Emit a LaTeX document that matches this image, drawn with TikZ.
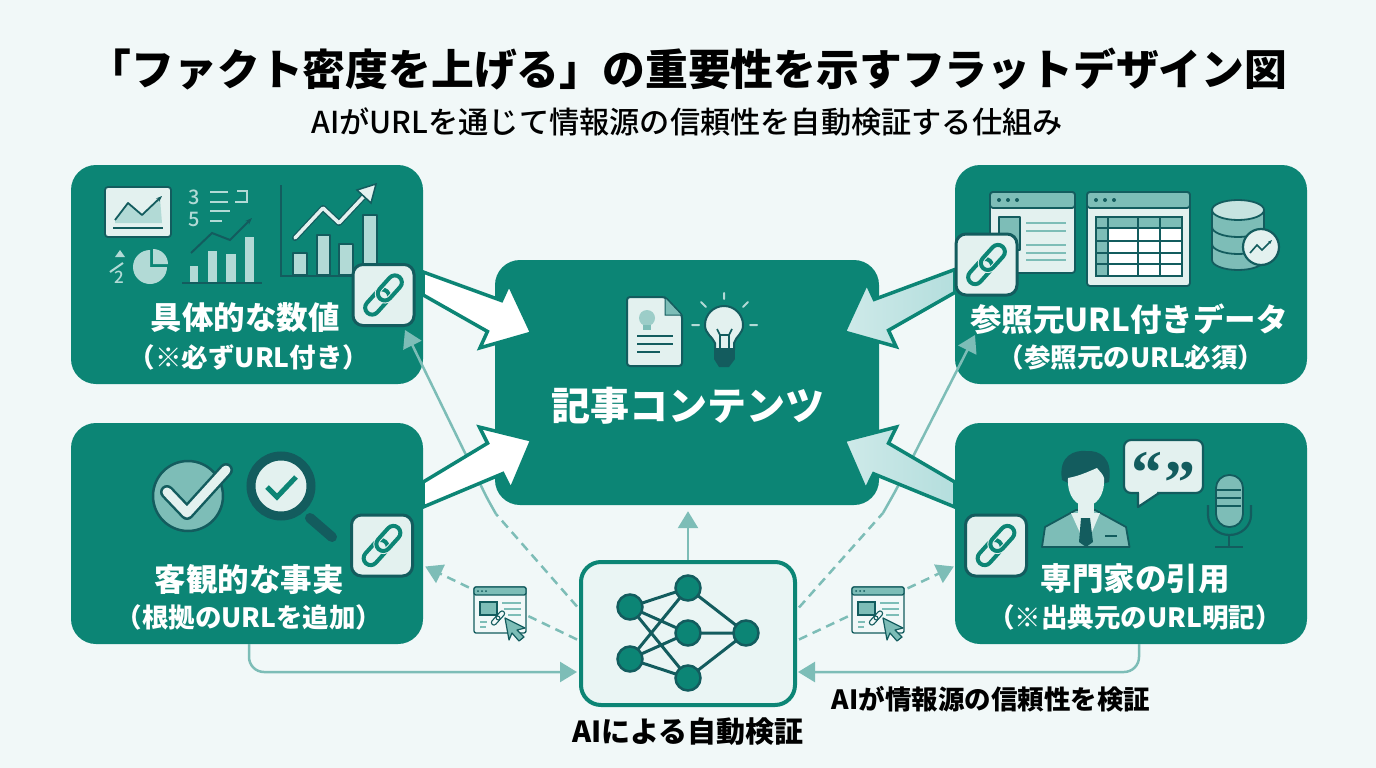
\documentclass[tikz,border=0pt]{standalone}
\usepackage{fontspec}
\setmainfont{Noto Sans CJK JP}
\newfontfamily\medfont{Noto Sans CJK JP Medium}
\newfontfamily\quotefont{Liberation Serif}
\usetikzlibrary{arrows.meta,calc}
\definecolor{bgc}{HTML}{F1F8F8}
\definecolor{teal}{HTML}{0C8575}
\definecolor{dark}{HTML}{135C5E}
\definecolor{mid}{HTML}{7DBDB7}
\definecolor{pale}{HTML}{E3F1EF}
\definecolor{soft}{HTML}{B2DAD6}
\definecolor{ice}{HTML}{B4DEDD}
\newcommand\fs[1]{\fontsize{#1}{#1}\selectfont}
\newcommand\linkshape[3]{%
  \draw[teal,line width=#1,rounded corners=#2] (-24,-7) rectangle (5,7);
  \draw[#3,line width=#1+2pt,rounded corners=#2] (-5,-7) rectangle (24,7);
  \draw[teal,line width=#1,rounded corners=#2] (-5,-7) rectangle (24,7);
}
\newcommand\blockarrow[4]{%
  \coordinate (n) at ($(#2)!41pt!(#1)$);
  \filldraw[bigarrow,#3] ($(#1)+(0,#4)$) -- ($(n)!17pt!90:(#2)$) -- ($(n)!35pt!90:(#2)$) -- (#2)
    -- ($(n)!35pt!-90:(#2)$) -- ($(n)!17pt!-90:(#2)$) -- ($(#1)-(0,#4)$) -- cycle;
}
\tikzset{
  x=1pt,y=-1pt,
  card/.style={fill=teal,rounded corners=25pt,inner sep=0pt,minimum width=352pt,minimum height=#1},
  badge/.style={fill=pale,draw=dark,line width=3pt,rounded corners=10pt,minimum size=61pt,inner sep=0pt},
  bigarrow/.style={draw=teal,line width=3.5pt,line join=miter,miter limit=8},
  flow/.style={draw=mid,line width=2.5pt},
  flowdash/.style={draw=mid,line width=2.5pt,dash pattern=on 9pt off 6pt},
  tip/.style={-{Triangle[length=17pt,width=20pt,color=mid]}},
  wtxt/.style={text=white,font=\bfseries,inner sep=0pt},
  ktxt/.style={text=black,font=\bfseries,inner sep=0pt},
  ink/.style={draw=dark,line width=1.8pt,line join=round},
  netnode/.style={circle,fill=teal,draw=dark,line width=2.5pt,minimum size=25pt,inner sep=0pt},
  netline/.style={draw=dark,line width=3pt},
  linkicon/.pic={\linkshape{4pt}{7pt}{pale}},
  webicon/.pic={
    \fill[bgc] (-3,-3) rectangle (54,50);
    \filldraw[fill=bgc,draw=dark,line width=1.3pt,rounded corners=2pt] (0,0) rectangle (52,46);
    \filldraw[fill=mid,draw=dark,line width=1.3pt,rounded corners=2pt] (0,0) rectangle (52,8);
    \fill[dark] (4,4) circle (1) (8,4) circle (1) (12,4) circle (1);
    \filldraw[fill=mid,draw=dark,line width=1.1pt] (6,15) rectangle (23,28);
    \draw[mid,line width=1.2pt] (28,16)--(47,16) (30,22)--(47,22) (34,28)--(47,28) (6,35)--(13,35) (6,40)--(12,40);
    \begin{scope}[shift={(24,31)},rotate=48,scale=.36]
      \draw[dark,line width=1.1pt,rounded corners=2.5pt] (-24,-7) rectangle (5,7);
      \draw[dark,line width=1.1pt,rounded corners=2.5pt] (-5,-7) rectangle (24,7);
    \end{scope}
    \filldraw[fill=mid,draw=dark,line width=1.2pt,line join=round] (31,31) -- (51,41) -- (43,43) -- (50,50) -- (45,54) -- (38,46) -- (35,53) -- cycle;
  }
}
\begin{document}
\begin{tikzpicture}
\useasboundingbox (0,0) rectangle (1376,768);
\fill[bgc] (0,0) rectangle (1376,768);

% titles
\node[ktxt] (title) at (688,69) {\fs{42.8}「ファクト密度を上げる」の重要性を示すフラットデザイン図};
\node[text=black,font=\medfont,inner sep=0pt] (subtitle) at (687,122) {\fs{30.2}AIがURLを通じて情報源の信頼性を自動検証する仕組み};

% cards
\node[card=245pt,minimum width=384pt] (center) at (687,382.5) {};
\node[card=219pt] (c1) at (247,274.5) {};
\node[card=221pt] (c2) at (247,533.5) {};
\node[card=219pt] (c3) at (1131,274.5) {};
\node[card=221pt] (c4) at (1131,533.5) {};
\node[fill=bgc!97!teal,draw=teal,line width=4pt,rounded corners=20pt,minimum width=214pt,minimum height=143pt,inner sep=0pt] (ai) at (688,633.5) {};

% thin connectors
\coordinate (bendL) at (496,514);
\coordinate (kneeL) at (487,498);
\coordinate (tipL) at (405,330);
\coordinate (bendR) at (883,513);
\coordinate (kneeR) at (896,490);
\coordinate (tipR) at (975,335);
\draw[flowdash] ($(ai.west)+(-2,-27)$) -- (bendL);
\draw[flow,tip,rounded corners=6pt] (bendL) -- (kneeL) -- (tipL);
\draw[flowdash] ($(ai.east)+(2,-26)$) -- (bendR);
\draw[flow,tip,rounded corners=8pt] (bendR) -- (kneeR) -- (tipR);
\draw[flow,tip] (ai.north) -- ($(center.south)+(1,6)$);
\draw[flowdash,tip] ($(ai.west)+(-2,6)$) -- ($(c2.east)+(2,33)$);
\draw[flowdash,tip] ($(ai.east)+(2,6)$) -- ($(c4.west)+(-1,33)$);
\draw[flow,tip,rounded corners=15pt] ($(c2.south)+(2,0)$) |- ($(ai.west)+(-2,38.5)$);
\draw[flow,tip,rounded corners=15pt] ($(c4.south)+(8,0)$) |- ($(ai.east)+(1,38.5)$);

% block arrows
\coordinate (tTL) at ($(c1.east)+(0,9)$);
\coordinate (hTL) at ($(center.west)+(37,-49.5)$);
\coordinate (tBL) at ($(c2.east)+(0,-39)$);
\coordinate (hBL) at ($(center.west)+(37,57.5)$);
\coordinate (tTR) at ($(c3.west)+(0,6.5)$);
\coordinate (hTR) at ($(center.east)+(-35,-50.5)$);
\coordinate (tBR) at ($(c4.west)+(0,-39)$);
\coordinate (hBR) at ($(center.east)+(-35,58)$);
\blockarrow{tTL}{hTL}{fill=white}{-11.5}
\blockarrow{tBL}{hBL}{fill=white}{-12.5}
\blockarrow{tTR}{hTR}{left color=ice!65!white,right color=ice}{11.5}
\blockarrow{tBR}{hBR}{left color=ice!65!white,right color=ice}{12.5}

% web icons
\pic at (474,587) {webicon};
\pic at (852,587) {webicon};

% AI network
\draw[netline] (630,607)--(688,588) (630,607)--(688,633) (630,607)--(688,678) (630,659)--(688,588) (630,659)--(688,633) (630,659)--(688,678) (688,588)--(746,633) (688,633)--(746,633) (688,678)--(746,633);
\node[netnode] (n1) at (630,607) {};
\node[netnode] (n2) at (688,588) {};
\node[netnode] (n3) at (688,633) {};
\node[netnode] (n4) at (630,659) {};
\node[netnode] (n5) at (688,678) {};
\node[netnode] (n6) at (746,633) {};

% text on cards
\node[wtxt] (l1) at (245,318) {\fs{31.5}具体的な数値};
\node[wtxt] (s1) at (249,357) {\fs{26.5}（※必ずURL付き）};
\node[wtxt] (l2) at (249,579) {\fs{31.5}客観的な事実};
\node[wtxt] (s2) at (249,617) {\fs{26.5}（根拠のURLを追加）};
\node[wtxt] (l3) at (1129,319) {\fs{31.5}参照元URL付きデータ};
\node[wtxt] (s3) at (1131,357) {\fs{26.5}（参照元のURL必須）};
\node[wtxt] (l4) at (1135,579) {\fs{31.5}専門家の引用};
\node[wtxt] (s4) at (1135,617) {\fs{26.5}（※出典元のURL明記）};
\node[wtxt] (lc) at (688,406) {\fs{39}記事コンテンツ};
\node[ktxt] (lai) at (688,732) {\fs{29}AIによる自動検証};
\node[ktxt] (lv) at (991,699) {\fs{26.5}AIが情報源の信頼性を検証};

% --- icons, top left
\filldraw[fill=pale,ink,rounded corners=3pt] (105,187) rectangle (171,237);
\fill[soft] (115,220) -- (128,203) -- (142,215) -- (160,198) -- (162,223) -- (115,223) -- cycle;
\draw[ink,-{Stealth[length=6pt]}] (115,220) -- (128,203) -- (142,215) -- (162,196);
\draw[ink] (113,228) -- (163,228);
\node[text=soft,inner sep=0pt,font=\medfont] (d3) at (194,197) {\fs{20}3};
\node[text=soft,inner sep=0pt,font=\medfont] (d5) at (194,219) {\fs{20}5};
\draw[soft,line width=2pt] (210,192)--(228,192) (210,202)--(228,202) (210,211)--(230,211) (210,221)--(222,221) (237,191)--(247,191)--(247,202)--(235,202);
\fill[soft] (120,250) -- (115,257) -- (125,257) -- cycle;
\draw[soft,line width=2pt] (110,272) -- (123,263);
\node[text=soft,inner sep=0pt,font=\medfont] (d2) at (119,277) {\fs{17}2};
\fill[soft] (150,267) -- (150,250) arc[start angle=270,end angle=0,radius=17] -- cycle;
\fill[soft] (153,249) arc[start angle=270,end angle=360,radius=15] -- (153,264) -- cycle;
\draw[dark,line width=1.5pt] (182,283) -- (262,283);
\foreach \a/\b/\c in {190/266/198,208/251/217,226/254/236,245/237/254}
  \fill[soft] (\a,\b) rectangle (\c,282);
\draw[dark,line width=2pt,-{Stealth[length=7pt]}] (191,253) -- (212,233) -- (230,240) -- (252,218);
\draw[dark,line width=1.8pt] (281,185) -- (281,276) -- (355,276);
\foreach \a/\b/\c in {293/253/307,317/235/330,339/244/353,363/215/377}
  \filldraw[fill=soft,ink] (\a,\b) rectangle (\c,275);
\draw[dark,line width=6pt,line join=round,line cap=round] (295,238) -- (323,208) -- (339,223) -- (367,193);
\draw[pale,line width=3.5pt,line join=round,line cap=round] (295,238) -- (323,208) -- (339,223) -- (369,191);
\filldraw[fill=pale,draw=dark,line width=1.5pt,line join=miter] (376,184) -- (371,203) -- (357,190) -- cycle;

% --- icons, bottom left
\filldraw[fill=mid,draw=dark,line width=2.5pt] (188,496) circle (35);
\draw[dark,line width=14pt,line join=round,line cap=round] (167,492) -- (187,513) -- (226,470);
\draw[pale,line width=9pt,line join=round,line cap=round] (167,492) -- (187,513) -- (226,470);
\draw[dark,line width=10pt,line cap=round] (310,518) -- (332,537);
\filldraw[fill=pale,draw=dark,line width=9pt] (281,486) circle (30);
\draw[teal,line width=5pt,line join=miter] (267,487) -- (277,497) -- (296,477);

% --- icons, top right
\filldraw[fill=pale,ink,rounded corners=3pt] (990,192) rectangle (1075,273);
\filldraw[fill=mid,ink,rounded corners=3pt] (990,192) rectangle (1075,208);
\fill[dark] (999,200) circle (2) (1008,200) circle (2) (1017,200) circle (2);
\filldraw[fill=mid,ink] (999,217) rectangle (1020,250);
\draw[mid,line width=2.2pt] (1026,223)--(1066,223) (1026,231)--(1066,231) (1026,245)--(1066,245) (1026,253)--(1066,253) (1026,260)--(1066,260);
\filldraw[fill=pale,ink,rounded corners=3pt] (1087,192) rectangle (1190,286);
\filldraw[fill=mid,ink,rounded corners=3pt] (1087,192) rectangle (1190,208);
\fill[dark] (1096,200) circle (2) (1105,200) circle (2) (1114,200) circle (2);
\fill[white] (1096,217) rectangle (1182,276);
\fill[mid] (1096,217) rectangle (1182,228) (1096,217) rectangle (1108,276);
\draw[dark,line width=1.8pt] (1096,217) rectangle (1182,276) (1108,217)--(1108,276) (1138,217)--(1138,276) (1160,217)--(1160,276) (1096,228)--(1182,228) (1096,241)--(1182,241) (1096,253)--(1182,253) (1096,264)--(1182,264);
\filldraw[fill=mid,ink] (1212,210) -- (1212,260) arc[start angle=180,end angle=0,x radius=26,y radius=10] -- (1264,210) -- cycle;
\draw[ink] (1212,227) arc[start angle=180,end angle=0,x radius=26,y radius=10];
\draw[ink] (1212,244) arc[start angle=180,end angle=0,x radius=26,y radius=10];
\filldraw[fill=soft!60!pale,ink] (1238,210) ellipse[x radius=26,y radius=10];
\filldraw[fill=pale,ink,line width=2.2pt] (1261,247) circle (18);
\draw[dark,line width=1.6pt,-{Stealth[length=4pt]}] (1250,253) -- (1257,245) -- (1262,250) -- (1272,240);

% --- icons, bottom right
\filldraw[fill=mid,ink] (1042,547) -- (1045,527) -- (1076,510) -- (1095,510) -- (1126,527) -- (1129.5,547) -- cycle;
\fill[pale] (1071,513) -- (1086,546) -- (1100,513) -- cycle;
\fill[dark] (1081,518) -- (1090,518) -- (1093,542) -- (1086,547) -- (1079,542) -- cycle;
\draw[dark,line width=1.8pt] (1105,536) -- (1117,536);
\fill[pale] (1078,500) rectangle (1094,516);
\fill[dark] (1062,480) .. controls (1058,455) and (1075,450) .. (1086,451) .. controls (1100,450) and (1113,458) .. (1109,482) -- (1102,484) -- (1070,484) -- cycle;
\fill[pale] (1068,478) .. controls (1080,476) and (1092,470) .. (1097,468) .. controls (1100,472) and (1103,474) .. (1104,478) .. controls (1105,497) and (1095,506) .. (1086,506) .. controls (1077,506) and (1067,497) .. (1068,478) -- cycle;
\filldraw[fill=pale,ink,line width=2.2pt,rounded corners=7pt] (1124,440) rectangle (1203,493);
\filldraw[fill=pale,draw=dark,line width=2.2pt,line join=round] (1138,492) -- (1138,507) -- (1159,493);
\fill[pale] (1139.2,489) rectangle (1157,492.8);
\node[text=dark,font=\quotefont\bfseries,inner sep=0pt] (q1) at (1147,473) {\fs{62}“};
\node[text=dark,font=\quotefont\bfseries,inner sep=0pt] (q2) at (1180,483) {\fs{62}”};
\filldraw[fill=mid,ink,rounded corners=13pt] (1216,475) rectangle (1243,527);
\draw[dark,line width=2pt] (1217,490)--(1241,490) (1217,498)--(1241,498) (1217,506)--(1241,506);
\draw[dark,line width=2.2pt] (1208,505) -- (1208,515) arc[start angle=180,end angle=0,x radius=21.5,y radius=20] -- (1251,505);
\draw[dark,line width=2.2pt] (1229,535) -- (1229,547) (1215,547) -- (1243,547);

% --- icons, centre card
\filldraw[fill=pale,ink,line width=2pt,rounded corners=3pt] (627,297) -- (665,297) -- (682,315) -- (682,366) -- (627,366) -- cycle;
\filldraw[fill=mid,draw=dark,line width=1pt] (665,297) -- (682,315) -- (665,315) -- cycle;
\fill[mid!70!pale] (647,318) circle (8);
\fill[mid] (643,325) rectangle (651,330);
\draw[dark,line width=2pt] (637,336)--(673,336) (637,344)--(673,344) (637,352)--(660,352);
\filldraw[fill=pale,ink,line width=2pt] (715,350) -- (715,343) .. controls (712,336) and (705,334) .. (705,325) arc[start angle=180,end angle=360,radius=19] .. controls (743,334) and (736,336) .. (734,343) -- (734,350) -- cycle;
\draw[dark,line width=1.6pt] (717,329) -- (720,335) -- (720,348) (732,329) -- (729,335) -- (729,348) (720,335) -- (729,335);
\fill[dark] (714,348) rectangle (735,359);
\fill[dark] (714,359) -- (735,359) -- (729,367) -- (719,367) -- cycle;
\draw[soft,line width=2pt,line cap=round] (724,293)--(724,299) (701,302)--(706,307) (748,302)--(743,307) (692,325)--(699,325) (750,325)--(757,325);

% badges
\node[badge] (b1) at (383.5,295) {};
\node[badge] (b2) at (382,545.5) {};
\node[badge] (b3) at (986.5,264.5) {};
\node[badge] (b4) at (996,545.5) {};
\pic[rotate=48] at (b1.center) {linkicon};
\pic[rotate=48] at (b2.center) {linkicon};
\pic[rotate=48] at (b3.center) {linkicon};
\pic[rotate=48] at (b4.center) {linkicon};
\end{tikzpicture}
\end{document}
